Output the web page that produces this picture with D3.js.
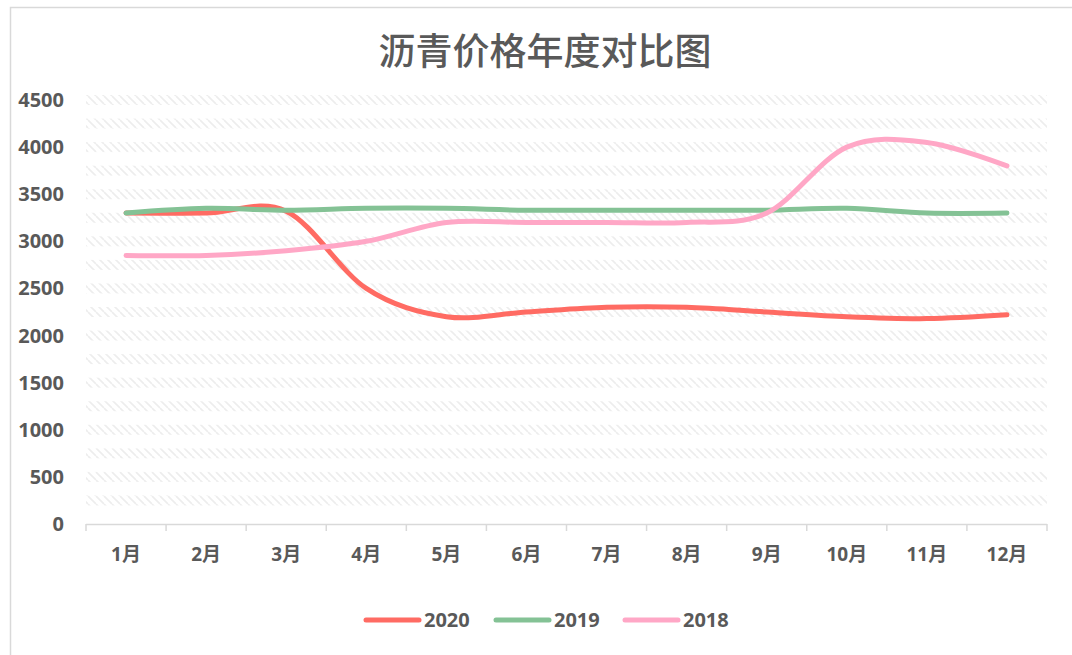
<!DOCTYPE html>
<html>
<head>
<meta charset="utf-8">
<script src="https://cdn.jsdelivr.net/npm/d3@7"></script>
<style>
  body { margin: 0; background: #fff; }
  svg text { font-family: "Open Sans", "Noto Sans CJK SC", sans-serif; }
</style>
</head>
<body>
<svg class="chart" width="1072" height="655"></svg>
<script>
    var months = ["1月", "2月", "3月", "4月", "5月", "6月", "7月", "8月", "9月", "10月", "11月", "12月"];
    var seriesNames = ["2020", "2019", "2018"];
    var values2020 = [3300, 3300, 3320, 2500, 2200, 2250, 2300, 2300, 2250, 2200, 2180, 2220];
    var values2019 = [3300, 3350, 3330, 3350, 3350, 3330, 3330, 3330, 3330, 3350, 3300, 3300];
    var values2018 = [2850, 2850, 2900, 3000, 3200, 3200, 3200, 3200, 3300, 4000, 4050, 3800];
    var yTicks = [0, 500, 1000, 1500, 2000, 2500, 3000, 3500, 4000, 4500];
    var colors = ["#ff6b63", "#84c295", "#ffa7c6"];

    var allValues = [values2020, values2019, values2018];

    var plotLeft = 86, plotRight = 1047, plotTop = 100, plotBottom = 524;
    var textColor = "#595959";

    var svg = d3.select(".chart");

    // outer border of the chart area
    svg.append("path")
        .attr("d", "M10.5,660 L10.5,7.5 L1080,7.5")
        .attr("fill", "none")
        .attr("stroke", "#d9d9d9")
        .attr("stroke-width", 1.5);

    // hatch pattern for gridlines (short diagonal dashes)
    var defs = svg.append("defs");
    var pat = defs.append("pattern")
        .attr("id", "hatch")
        .attr("patternUnits", "userSpaceOnUse")
        .attr("width", 8)
        .attr("height", 8);
    pat.append("path")
        .attr("d", "M0,0 L8,8 M-8,0 L0,8 M8,0 L16,8")
        .attr("stroke", "#ededed")
        .attr("stroke-width", 1.6);

    var x = d3.scalePoint()
        .domain(months)
        .range([plotLeft, plotRight])
        .padding(0.5);

    var xBand = d3.scaleBand()
        .domain(months)
        .range([plotLeft, plotRight]);

    var y = d3.scaleLinear()
        .domain([0, 4500])
        .range([plotBottom, plotTop]);

    // gridline bands every 250
    var gridVals = d3.range(250, 4501, 250);
    svg.append("g").selectAll("rect")
        .data(gridVals)
        .enter()
        .append("rect")
        .attr("x", plotLeft)
        .attr("y", function(d) { return y(d) - 5; })
        .attr("width", plotRight - plotLeft)
        .attr("height", 10)
        .attr("fill", "url(#hatch)");

    // y tick labels
    svg.append("g").selectAll("text")
        .data(yTicks)
        .enter()
        .append("text")
        .attr("x", 64)
        .attr("y", function(d) { return y(d); })
        .attr("dy", "0.35em")
        .attr("text-anchor", "end")
        .attr("font-size", 20)
        .attr("font-weight", "bold")
        .attr("fill", textColor)
        .text(function(d) { return d; });

    // x axis
    var xAxis = svg.append("g")
        .attr("transform", "translate(0," + plotBottom + ")");
    xAxis.append("line")
        .attr("x1", plotLeft).attr("x2", plotRight)
        .attr("y1", 0.5).attr("y2", 0.5)
        .attr("stroke", "#d9d9d9")
        .attr("stroke-width", 1.5);
    var tickPos = months.map(function(m) { return xBand(m); }).concat([plotRight]);
    xAxis.selectAll(".tick")
        .data(tickPos)
        .enter()
        .append("line")
        .attr("x1", function(d) { return d; })
        .attr("x2", function(d) { return d; })
        .attr("y1", 0)
        .attr("y2", 7)
        .attr("stroke", "#d9d9d9")
        .attr("stroke-width", 1.5);
    xAxis.selectAll("text")
        .data(months)
        .enter()
        .append("text")
        .attr("x", function(d) { return x(d); })
        .attr("y", 30)
        .attr("dy", "0.35em")
        .attr("text-anchor", "middle")
        .attr("font-size", 19)
        .attr("font-weight", "bold")
        .attr("fill", textColor)
        .text(function(d) { return d; });

    // smoothed lines
    var line = d3.line()
        .x(function(d, i) { return x(months[i]); })
        .y(function(d) { return y(d); })
        .curve(d3.curveCardinal.tension(0));

    svg.append("g").selectAll("path")
        .data(allValues)
        .enter()
        .append("path")
        .attr("d", line)
        .attr("fill", "none")
        .attr("stroke", function(d, i) { return colors[i]; })
        .attr("stroke-width", 5)
        .attr("stroke-linecap", "round")
        .attr("stroke-linejoin", "round");

    // title
    svg.append("text")
        .attr("x", 545)
        .attr("y", 52)
        .attr("dy", "0.35em")
        .attr("text-anchor", "middle")
        .attr("font-size", 37)
        .attr("font-weight", 500)
        .attr("fill", textColor)
        .style("font-family", "'Noto Sans CJK SC', sans-serif")
        .text("沥青价格年度对比图");

    // legend
    var legendX = [366, 496, 625];
    var legend = svg.append("g").selectAll("g")
        .data(seriesNames)
        .enter()
        .append("g")
        .attr("transform", function(d, i) { return "translate(" + legendX[i] + ",620)"; });
    legend.append("line")
        .attr("x1", 0).attr("x2", 53)
        .attr("y1", 0).attr("y2", 0)
        .attr("stroke", function(d, i) { return colors[i]; })
        .attr("stroke-width", 5)
        .attr("stroke-linecap", "round");
    legend.append("text")
        .attr("x", 58)
        .attr("y", 0)
        .attr("dy", "0.35em")
        .attr("font-size", 20)
        .attr("font-weight", "bold")
        .attr("fill", textColor)
        .text(function(d) { return d; });
</script>
</body>
</html>
